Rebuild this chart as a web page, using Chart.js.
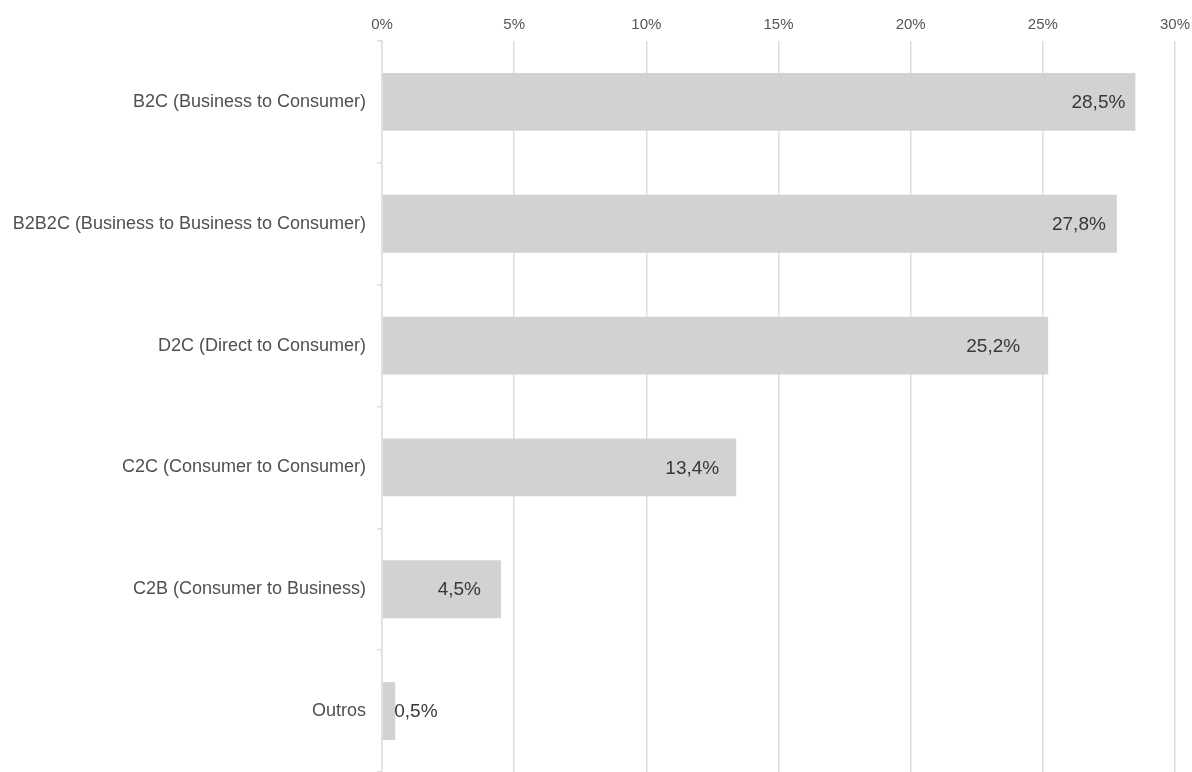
<!DOCTYPE html>
<html>
<head>
<meta charset="utf-8">
<script src="https://cdn.jsdelivr.net/npm/chart.js@4/dist/chart.umd.min.js"></script>
<style>
  html, body { margin: 0; padding: 0; background: #fff; }
  #wrap { width: 1192px; height: 772px; }
</style>
</head>
<body>
<div id="wrap"><canvas id="barChart"></canvas></div>
<script>
const categorias = [
  "B2C (Business to Consumer)",
  "B2B2C (Business to Business to Consumer)",
  "D2C (Direct to Consumer)",
  "C2C (Consumer to Consumer)",
  "C2B (Consumer to Business)",
  "Outros"
];
const percentuais = [28.5, 27.8, 25.2, 13.4, 4.5, 0.5];
const ticksX = [0, 5, 10, 15, 20, 25, 30];

// distancia do rotulo ate o fim da barra (px)
const recuoRotulo = [10, 11, 28, 17, 20, 0];

const fonte = "'Liberation Sans', Arial, sans-serif";
const fmt = v => v.toFixed(1).replace(".", ",") + "%";

// rotulos de valor dentro da barra (ou logo depois, se nao couber)
const rotulosPlugin = {
  id: "rotulos",
  afterDatasetsDraw(chart) {
    const ctx = chart.ctx;
    const meta = chart.getDatasetMeta(0);
    ctx.save();
    ctx.font = "19px " + fonte;
    ctx.fillStyle = "#383838";
    ctx.textBaseline = "middle";
    meta.data.forEach((bar, i) => {
      const txt = fmt(percentuais[i]);
      const w = ctx.measureText(txt).width;
      const largura = bar.x - bar.base;
      if (largura > w + 16) {
        ctx.textAlign = "right";
        ctx.fillText(txt, bar.x - recuoRotulo[i], bar.y + 1);
      } else {
        ctx.textAlign = "left";
        ctx.fillText(txt, bar.x - 1, bar.y + 1);
      }
    });
    ctx.restore();
  }
};

const ctx = document.getElementById("barChart");
new Chart(ctx, {
  type: "bar",
  data: {
    labels: categorias,
    datasets: [{
      data: percentuais,
      backgroundColor: "#d3d2d3",
      borderWidth: 0,
      barPercentage: 0.475,
      categoryPercentage: 1
    }]
  },
  options: {
    indexAxis: "y",
    responsive: true,
    maintainAspectRatio: false,
    animation: false,
    layout: { padding: { top: 0, right: 17, left: 0, bottom: -2 } },
    plugins: {
      legend: { display: false },
      tooltip: { enabled: false }
    },
    scales: {
      x: {
        position: "top",
        min: 0,
        max: 30,
        afterBuildTicks: axis => { axis.ticks = ticksX.map(v => ({ value: v })); },
        grid: { color: "#dedede", lineWidth: 1.5, drawTicks: false },
        border: { display: false },
        ticks: {
          padding: 7,
          color: "#555",
          font: { family: fonte, size: 15 },
          callback: v => v + "%"
        },
        afterFit: axis => {
          axis.height = 41;
          axis.paddingLeft = 0;
          axis.paddingRight = 0;
        }
      },
      y: {
        offset: true,
        grid: {
          offset: true,
          drawOnChartArea: false,
          drawTicks: true,
          tickLength: 5,
          color: "#dedede",
          lineWidth: 1.5
        },
        border: { display: true, color: "#dedede", width: 1.5 },
        ticks: {
          padding: 11,
          color: "#505050",
          font: { family: fonte, size: 18 }
        },
        afterFit: axis => {
          axis.width = 382;
          axis.paddingTop = 0;
          axis.paddingBottom = 0;
        }
      }
    }
  },
  plugins: [rotulosPlugin]
});
</script>
</body>
</html>
